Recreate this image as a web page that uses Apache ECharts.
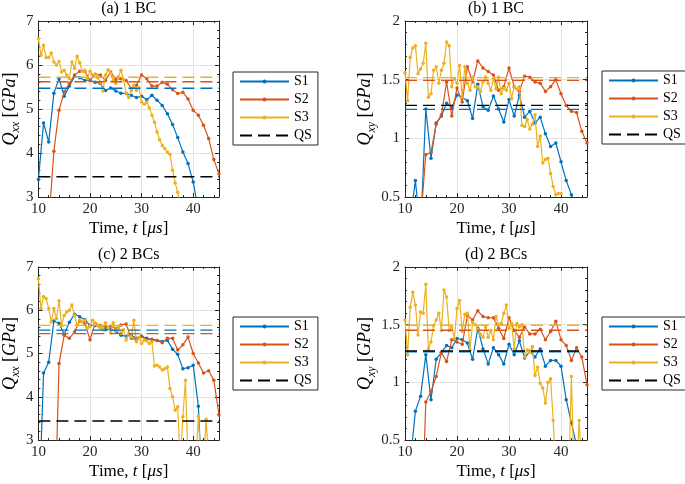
<!DOCTYPE html>
<html><head><meta charset="utf-8">
<script src="https://cdn.jsdelivr.net/npm/echarts@6/dist/echarts.min.js"></script>
<style>html,body{margin:0;padding:0;background:#fff}#c{width:685px;height:484px}</style>
</head><body><div id="c"></div>
<script>
// ---------- data ----------
const tInt = [10,11,12,13,14,15,16,17,18,19,20,21,22,23,24,25,26,27,28,29,30,31,32,33,34,35,36,37,38,39,40,41,42,43,44,45];
const tHalf = [10,10.5,11,11.5,12,12.5,13,13.5,14,14.5,15,15.5,16,16.5,17,17.5,18,18.5,19,19.5,20,20.5,21,21.5,22,22.5,23,23.5,24,24.5,25,25.5,26,26.5,27,27.5,28,28.5,29,29.5,30,30.5,31,31.5,32,32.5,33,33.5,34,34.5,35,35.5,36,36.5,37,37.5,38,38.5,39,39.5,40,40.5,41,41.5,42,42.5,43,43.5,44,44.5,45];
const xTicks = [10,20,30,40];

// (a) 1 BC, Qxx
const S1a = [3.40,4.68,4.25,5.36,5.69,5.29,5.52,5.74,5.71,5.65,5.65,5.61,5.58,5.42,5.48,5.41,5.36,5.35,5.31,5.26,5.29,5.21,5.31,5.20,5.08,4.89,4.65,4.35,4.02,3.76,3.34,2.70,null,null,null,null];
const S2a = [null,null,2.40,4.04,4.97,5.39,5.58,5.77,5.86,5.86,5.65,5.79,5.77,5.65,5.84,5.67,5.69,5.65,5.46,5.54,5.77,5.69,5.52,5.52,5.61,5.56,5.44,5.35,5.38,5.23,4.97,4.86,4.63,4.33,3.85,3.52];
const S3a = [6.60,6.22,6.45,6.17,6.17,6.27,6.07,6.00,6.08,5.84,
             5.88,5.77,5.69,6.07,5.92,6.20,6.05,5.86,5.88,5.69,
             5.86,5.77,5.79,5.71,5.61,5.41,5.77,5.89,5.82,5.65,
             5.58,5.73,5.88,5.67,5.35,5.26,5.42,5.54,5.42,5.48,
             5.16,5.11,5.16,5.03,4.86,4.70,4.48,4.30,4.17,4.10,
             4.02,3.97,3.61,3.32,3.11,2.70];
const meanA = [5.47, 5.62, 5.72];
const qsA = 3.46;

// (b) 1 BC, Qxy
const S1b = [null,0.30,0.64,0.20,1.25,0.83,1.13,1.19,1.30,1.26,1.37,1.35,1.32,1.17,1.46,1.27,1.24,1.36,1.25,1.14,1.33,1.19,1.37,1.18,1.23,1.13,1.18,1.04,0.93,0.96,0.80,0.64,0.52,0.40,null,null];
const S2b = [null,null,null,0.30,0.86,0.88,1.12,1.20,1.48,1.19,1.43,1.31,1.61,1.48,1.66,1.60,1.57,1.54,1.41,1.44,1.60,1.44,1.40,1.53,1.52,1.48,1.47,1.40,1.44,1.50,1.38,1.28,1.23,1.22,1.06,0.96];
const S3b = [1.56,1.32,1.69,1.77,1.79,1.55,1.59,1.64,1.81,1.35,
             1.38,1.58,1.61,1.47,1.58,1.64,1.82,1.79,1.44,1.51,
             1.47,1.62,1.35,1.61,1.47,1.41,1.52,1.44,1.44,1.40,
             1.48,1.52,1.47,1.41,1.51,1.42,1.52,1.38,1.43,1.41,
             1.47,1.34,1.44,1.42,1.44,1.11,1.10,1.16,1.08,1.12,
             1.20,0.93,1.02,0.79,0.82,0.83,0.70,0.59,0.52,0.53,0.53];
const meanB = [1.247, 1.494, 1.517];
const qsB = 1.281;

// (c) 2 BCs, Qxx
const S1c = [1.00,4.55,4.80,5.75,5.70,5.44,5.72,5.91,5.85,5.78,5.65,5.65,5.60,5.55,5.55,5.52,5.42,5.40,5.42,5.35,5.40,5.35,5.32,5.30,5.28,5.30,5.10,4.98,4.65,4.67,4.73,3.78,1.20,null,null,null];
const S2c = [null,null,null,0.30,4.77,5.42,5.35,5.50,5.75,5.70,5.32,5.70,5.65,5.62,5.63,5.58,5.66,5.68,5.35,5.32,5.40,5.32,5.33,5.30,5.25,5.35,5.35,5.08,5.20,5.38,5.00,4.78,4.55,4.60,4.38,3.58];
const S3c = [6.73,6.04,6.32,6.27,6.04,5.73,6.04,5.81,6.22,5.65,
             5.88,5.96,6.00,6.12,5.88,5.65,5.78,5.73,5.77,5.58,
             5.63,5.77,5.69,5.65,5.60,5.55,5.71,5.60,5.48,5.71,
             5.54,5.60,5.46,5.55,5.31,5.46,5.38,5.77,5.27,5.37,
             5.23,5.31,5.29,5.23,5.27,4.71,4.73,4.69,4.62,4.65,
             4.69,4.19,4.00,3.69,3.77,2.50,3.54,4.38,2.50,2.50,
             2.50,2.50,3.55,2.50,2.50,3.48,2.50];
const meanC = [5.54, 5.46, 5.65];
const qsC = 3.44;

// (d) 2 BCs, Qxy
const S1d = [null,0.30,0.75,0.88,1.24,0.85,1.20,1.26,1.32,1.30,1.38,1.37,1.34,1.20,1.47,1.29,1.16,1.30,1.24,1.16,1.33,1.24,1.36,1.21,1.27,1.22,1.29,1.14,1.19,1.19,1.14,0.85,0.65,0.45,null,null];
const S2d = [null,null,null,-0.50,0.83,0.92,1.05,1.26,1.18,1.37,1.35,1.33,1.58,1.54,1.62,1.57,1.56,1.56,1.47,1.38,1.56,1.45,1.39,1.48,1.42,1.42,1.46,1.37,1.44,1.53,1.37,1.32,1.19,1.30,1.22,0.98];
const S3d = [1.54,1.24,1.65,1.78,1.67,1.41,1.61,1.60,1.85,1.29,
             1.35,1.49,1.54,1.60,1.45,1.80,1.74,1.45,1.48,1.38,
             1.64,1.71,1.44,1.59,1.60,1.28,1.52,1.50,1.46,1.42,
             1.39,1.48,1.39,1.45,1.37,1.57,1.50,1.51,1.60,1.67,
             1.47,1.51,1.29,1.51,1.48,1.50,1.22,1.28,1.26,1.31,
             1.06,1.13,0.99,0.95,0.82,1.00,1.03,0.67,0.20,null,
             null,null,null,0.20,1.05,0.20,0.20,0.67,0.20];
const meanD = [1.264, 1.452, 1.495];
const qsD = 1.272;

const seriesNames = ['S1','S2','S3','QS'];
const titles = ['(a) 1 BC','(b) 1 BC','(c) 2 BCs','(d) 2 BCs'];

// ---------- layout / style ----------
const F = "'Liberation Serif','Times New Roman',serif";
const COLORS = ['#0072BD','#D95319','#EDB120'];
const AX = '#262626';
const GRIDC = '#e2e2e2';

const panels = [
  {title:titles[0], sub:'xx', yMin:3, yMax:7, yInt:1, S:[S1a,S2a,S3a], mean:meanA, qs:qsA, box:[36,21,183,176], leg:[233,72], yGap:11},
  {title:titles[1], sub:'xy', yMin:0.5, yMax:2, yInt:0.5, S:[S1b,S2b,S3b], mean:meanB, qs:qsB, box:[405,21,182,176], leg:[602,71], yGap:27},
  {title:titles[2], sub:'xx', yMin:3, yMax:7, yInt:1, S:[S1c,S2c,S3c], mean:meanC, qs:qsC, box:[36,267,183,173], leg:[233,317], yGap:11},
  {title:titles[3], sub:'xy', yMin:0.5, yMax:2, yInt:0.5, S:[S1d,S2d,S3d], mean:meanD, qs:qsD, box:[405,267,182,173], leg:[602,317], yGap:27}
];

const grid=[], xAxis=[], yAxis=[], series=[], legend=[];
const tickCommon = {inside:true, length:4, lineStyle:{color:AX, width:1}};
const minorCommon = {show:true, splitNumber:5, length:2, lineStyle:{color:AX, width:1}};
const lineCommon = {show:true, onZero:false, lineStyle:{color:AX, width:1}};

panels.forEach((p,i)=>{
  grid.push({left:p.box[0], top:p.box[1], width:p.box[2], height:p.box[3]});
  const xmin = xTicks[0], xmax = 45;
  xAxis.push({
    type:'value', gridIndex:i, position:'bottom', min:xmin, max:xmax, interval:10,
    axisLine:lineCommon, axisTick:tickCommon, minorTick:minorCommon,
    axisLabel:{color:AX, fontFamily:F, fontSize:15, margin:5, showMaxLabel:false},
    splitLine:{show:true, lineStyle:{color:GRIDC, width:1}},
    name:'{n|Time, }{i|t}{n| [}{i|μs}{n|]}', nameLocation:'middle', nameGap:23,
    nameTextStyle:{color:'#000', fontFamily:F, fontSize:17,
      rich:{n:{fontFamily:F, fontSize:17, color:'#000'}, i:{fontFamily:F, fontSize:17, fontStyle:'italic', color:'#000'}}}
  });
  xAxis.push({
    type:'value', gridIndex:i, position:'top', min:xmin, max:xmax, interval:10,
    axisLine:lineCommon, axisTick:tickCommon, minorTick:minorCommon,
    axisLabel:{show:false}, splitLine:{show:false},
    name:p.title, nameLocation:'middle', nameGap:4,
    nameTextStyle:{color:'#000', fontFamily:F, fontSize:16}
  });
  yAxis.push({
    type:'value', gridIndex:i, position:'left', min:p.yMin, max:p.yMax, interval:p.yInt,
    axisLine:lineCommon, axisTick:tickCommon, minorTick:minorCommon,
    axisLabel:{color:AX, fontFamily:F, fontSize:15, margin:5},
    splitLine:{show:true, lineStyle:{color:GRIDC, width:1}},
    name:'{q|Q}{s|'+p.sub+'}{n| [}{i|GPa}{n|]}', nameLocation:'middle', nameGap:p.yGap, nameRotate:90,
    nameTextStyle:{color:'#000', fontFamily:F, fontSize:18,
      rich:{
        q:{fontFamily:F, fontSize:18, fontStyle:'italic', color:'#000', lineHeight:24},
        s:{fontFamily:F, fontSize:12, fontStyle:'italic', color:'#000', lineHeight:12, verticalAlign:'bottom'},
        n:{fontFamily:F, fontSize:18, color:'#000'},
        i:{fontFamily:F, fontSize:18, fontStyle:'italic', color:'#000'}
      }}
  });
  yAxis.push({
    type:'value', gridIndex:i, position:'right', min:p.yMin, max:p.yMax, interval:p.yInt,
    axisLine:lineCommon, axisTick:tickCommon, minorTick:minorCommon,
    axisLabel:{show:false}, splitLine:{show:false}
  });
  const xi = 2*i, yi = 2*i;
  // data series
  p.S.forEach((vals,k)=>{
    const times = (k===2) ? tHalf : tInt;
    series.push({
      type:'line', name:seriesNames[k], xAxisIndex:xi, yAxisIndex:yi,
      data: vals.map((v,j)=>[times[j], v]),
      symbol:'circle', symbolSize:3.5, showSymbol:true, clip:true,
      lineStyle:{color:COLORS[k], width:1.2}, itemStyle:{color:COLORS[k]},
      emphasis:{disabled:true}, z:2+k
    });
  });
  // mean dashed lines
  p.mean.forEach((m,k)=>{
    series.push({
      type:'line', name:seriesNames[k]+' mean '+i, xAxisIndex:xi, yAxisIndex:yi,
      data:[[xmin,m],[xmax,m]], symbol:'none', clip:true,
      lineStyle:{color:COLORS[k], width:1.4, type:[12,6]}, emphasis:{disabled:true}, z:6
    });
  });
  series.push({
    type:'line', name:'QS', xAxisIndex:xi, yAxisIndex:yi,
    data:[[xmin,p.qs],[xmax,p.qs]], symbol:'none', clip:true,
    lineStyle:{color:'#000', width:1.4, type:[12,6]}, itemStyle:{color:'#000'}, emphasis:{disabled:true}, z:6
  });
  legend.push({
    left:p.leg[0], top:p.leg[1], orient:'vertical', itemWidth:49, itemHeight:5, itemGap:4,
    padding:[2.5,6,2.5,6], borderColor:AX, borderWidth:1, borderRadius:0, backgroundColor:'#fff',
    selectedMode:false, textStyle:{fontFamily:F, fontSize:14, color:'#000'},
    data:['S1','S2','S3',{name:'QS', itemStyle:{opacity:0}}]
  });
});

const chart = echarts.init(document.getElementById('c'), null, {renderer:'canvas'});
chart.setOption({
  animation:false, backgroundColor:'#fff', tooltip:{show:false},
  grid, xAxis, yAxis, series, legend
});
</script></body></html>
